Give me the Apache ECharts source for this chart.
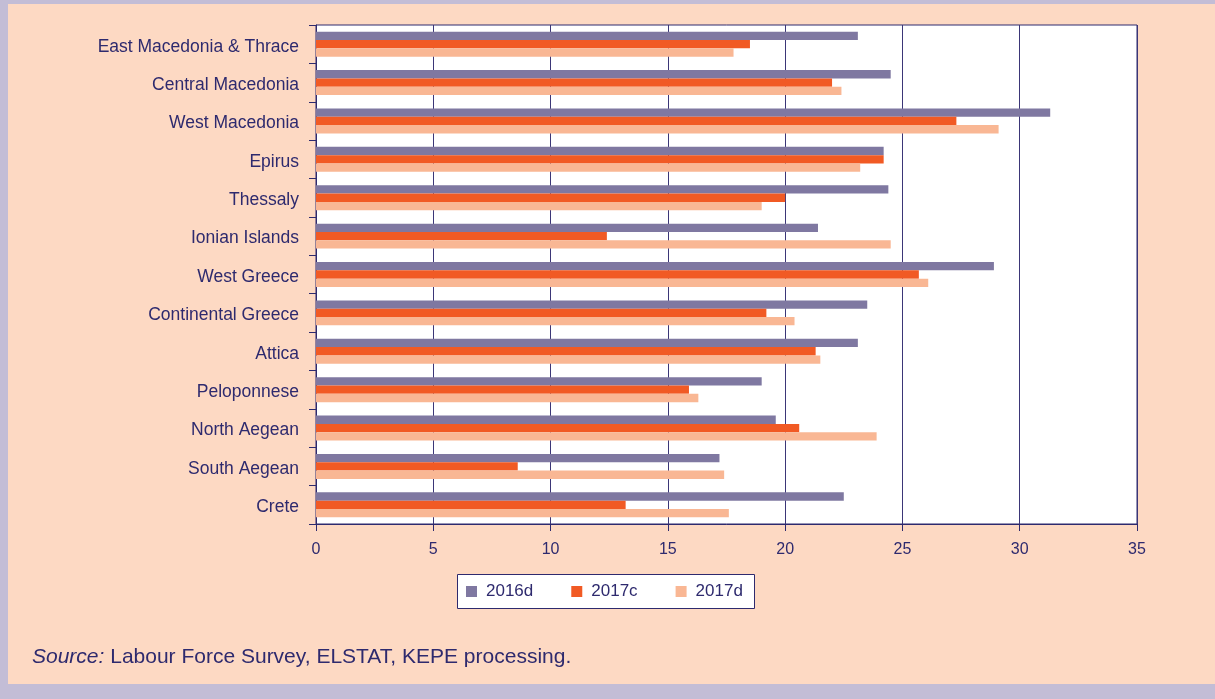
<!DOCTYPE html>
<html>
<head>
<meta charset="utf-8">
<title>Regions chart</title>
<script src="https://cdn.jsdelivr.net/npm/echarts@6/dist/echarts.min.js"></script>
<style>
    html, body {margin: 0; padding: 0; background: #c3bdd6;}
    #frame {position: absolute; left: 8px; top: 4px; width: 1207px; height: 680px; background: #fdd9c3;}
    #chart {position: absolute; left: 0; top: 0; width: 1215px; height: 699px;}
</style>
</head>
<body>
<div id="frame"></div>
<div id="chart"></div>
<script>
// categories, top to bottom
var regions = ['East Macedonia & Thrace', 'Central Macedonia', 'West Macedonia', 'Epirus', 'Thessaly',
    'Ionian Islands', 'West Greece', 'Continental Greece', 'Attica', 'Peloponnese',
    'North Aegean', 'South Aegean', 'Crete'];
var seriesNames = ['2016d', '2017c', '2017d'];
var v2016d = [23.1, 24.5, 31.3, 24.2, 24.4, 21.4, 28.9, 23.5, 23.1, 19.0, 19.6, 17.2, 22.5];
var v2017c = [18.5, 22.0, 27.3, 24.2, 20.0, 12.4, 25.7, 19.2, 21.3, 15.9, 20.6, 8.6, 13.2];
var v2017d = [17.8, 22.4, 29.1, 23.2, 19.0, 24.5, 26.1, 20.4, 21.5, 16.3, 23.9, 17.4, 17.6];
var xTicks = [0, 5, 10, 15, 20, 25, 30, 35];

var navy = '#2e2a6e';
var colors = ['#7f78a1', '#f15a24', '#f9b794'];
var font = '"Liberation Sans", Arial, sans-serif';

var chart = echarts.init(document.getElementById('chart'));

function bar(name, data, i) {
    return {
        name: name,
        type: 'bar',
        data: data,
        barGap: '0%',
        barCategoryGap: '35%',
        itemStyle: {color: colors[i]}
    };
}

chart.setOption({
    animation: false,
    backgroundColor: 'transparent',
    textStyle: {fontFamily: font, color: navy},
    grid: {
        left: 316, right: 78, top: 25, bottom: 175,
        show: true, backgroundColor: '#ffffff', borderColor: navy, borderWidth: 1
    },
    xAxis: {
        type: 'value',
        min: xTicks[0],
        max: xTicks[xTicks.length - 1],
        interval: 5,
        axisLine: {show: true, lineStyle: {color: navy, width: 1}},
        axisTick: {show: true, length: 7, lineStyle: {color: navy}},
        axisLabel: {color: navy, fontSize: 16, margin: 18, fontFamily: font},
        splitLine: {show: true, lineStyle: {color: '#3b3677', width: 1}}
    },
    yAxis: {
        type: 'category',
        inverse: true,
        data: regions,
        axisLine: {show: true, lineStyle: {color: navy, width: 1}},
        axisTick: {show: true, length: 7, lineStyle: {color: navy}},
        axisLabel: {
            margin: 17,
            formatter: function (v) { return '{a|' + v + '}'; },
            rich: {a: {color: navy, fontSize: 17.5, fontFamily: font, padding: [5, 0, 0, 0]}}
        },
        splitLine: {show: false}
    },
    legend: {
        left: 466,
        top: 583,
        padding: 0,
        icon: 'rect',
        itemWidth: 11,
        itemHeight: 11,
        itemGap: 38,
        data: seriesNames,
        textStyle: {color: navy, fontSize: 17, fontFamily: font, padding: [0, 0, 0, 4]}
    },
    graphic: [
        {
            type: 'rect',
            left: 457, top: 574, z: 0,
            shape: {width: 297, height: 34},
            style: {fill: '#ffffff', stroke: navy, lineWidth: 1}
        },
        {
            type: 'text',
            left: 32, top: 647,
            style: {
                text: '{i|Source:} Labour Force Survey, ELSTAT, KEPE processing.',
                fill: navy,
                font: '21px ' + font,
                rich: {i: {fontStyle: 'italic', fontSize: 21, fontFamily: font, fill: navy}}
            }
        }
    ],
    series: [
        bar(seriesNames[0], v2016d, 0),
        bar(seriesNames[1], v2017c, 1),
        bar(seriesNames[2], v2017d, 2)
    ]
});
</script>
</body>
</html>
